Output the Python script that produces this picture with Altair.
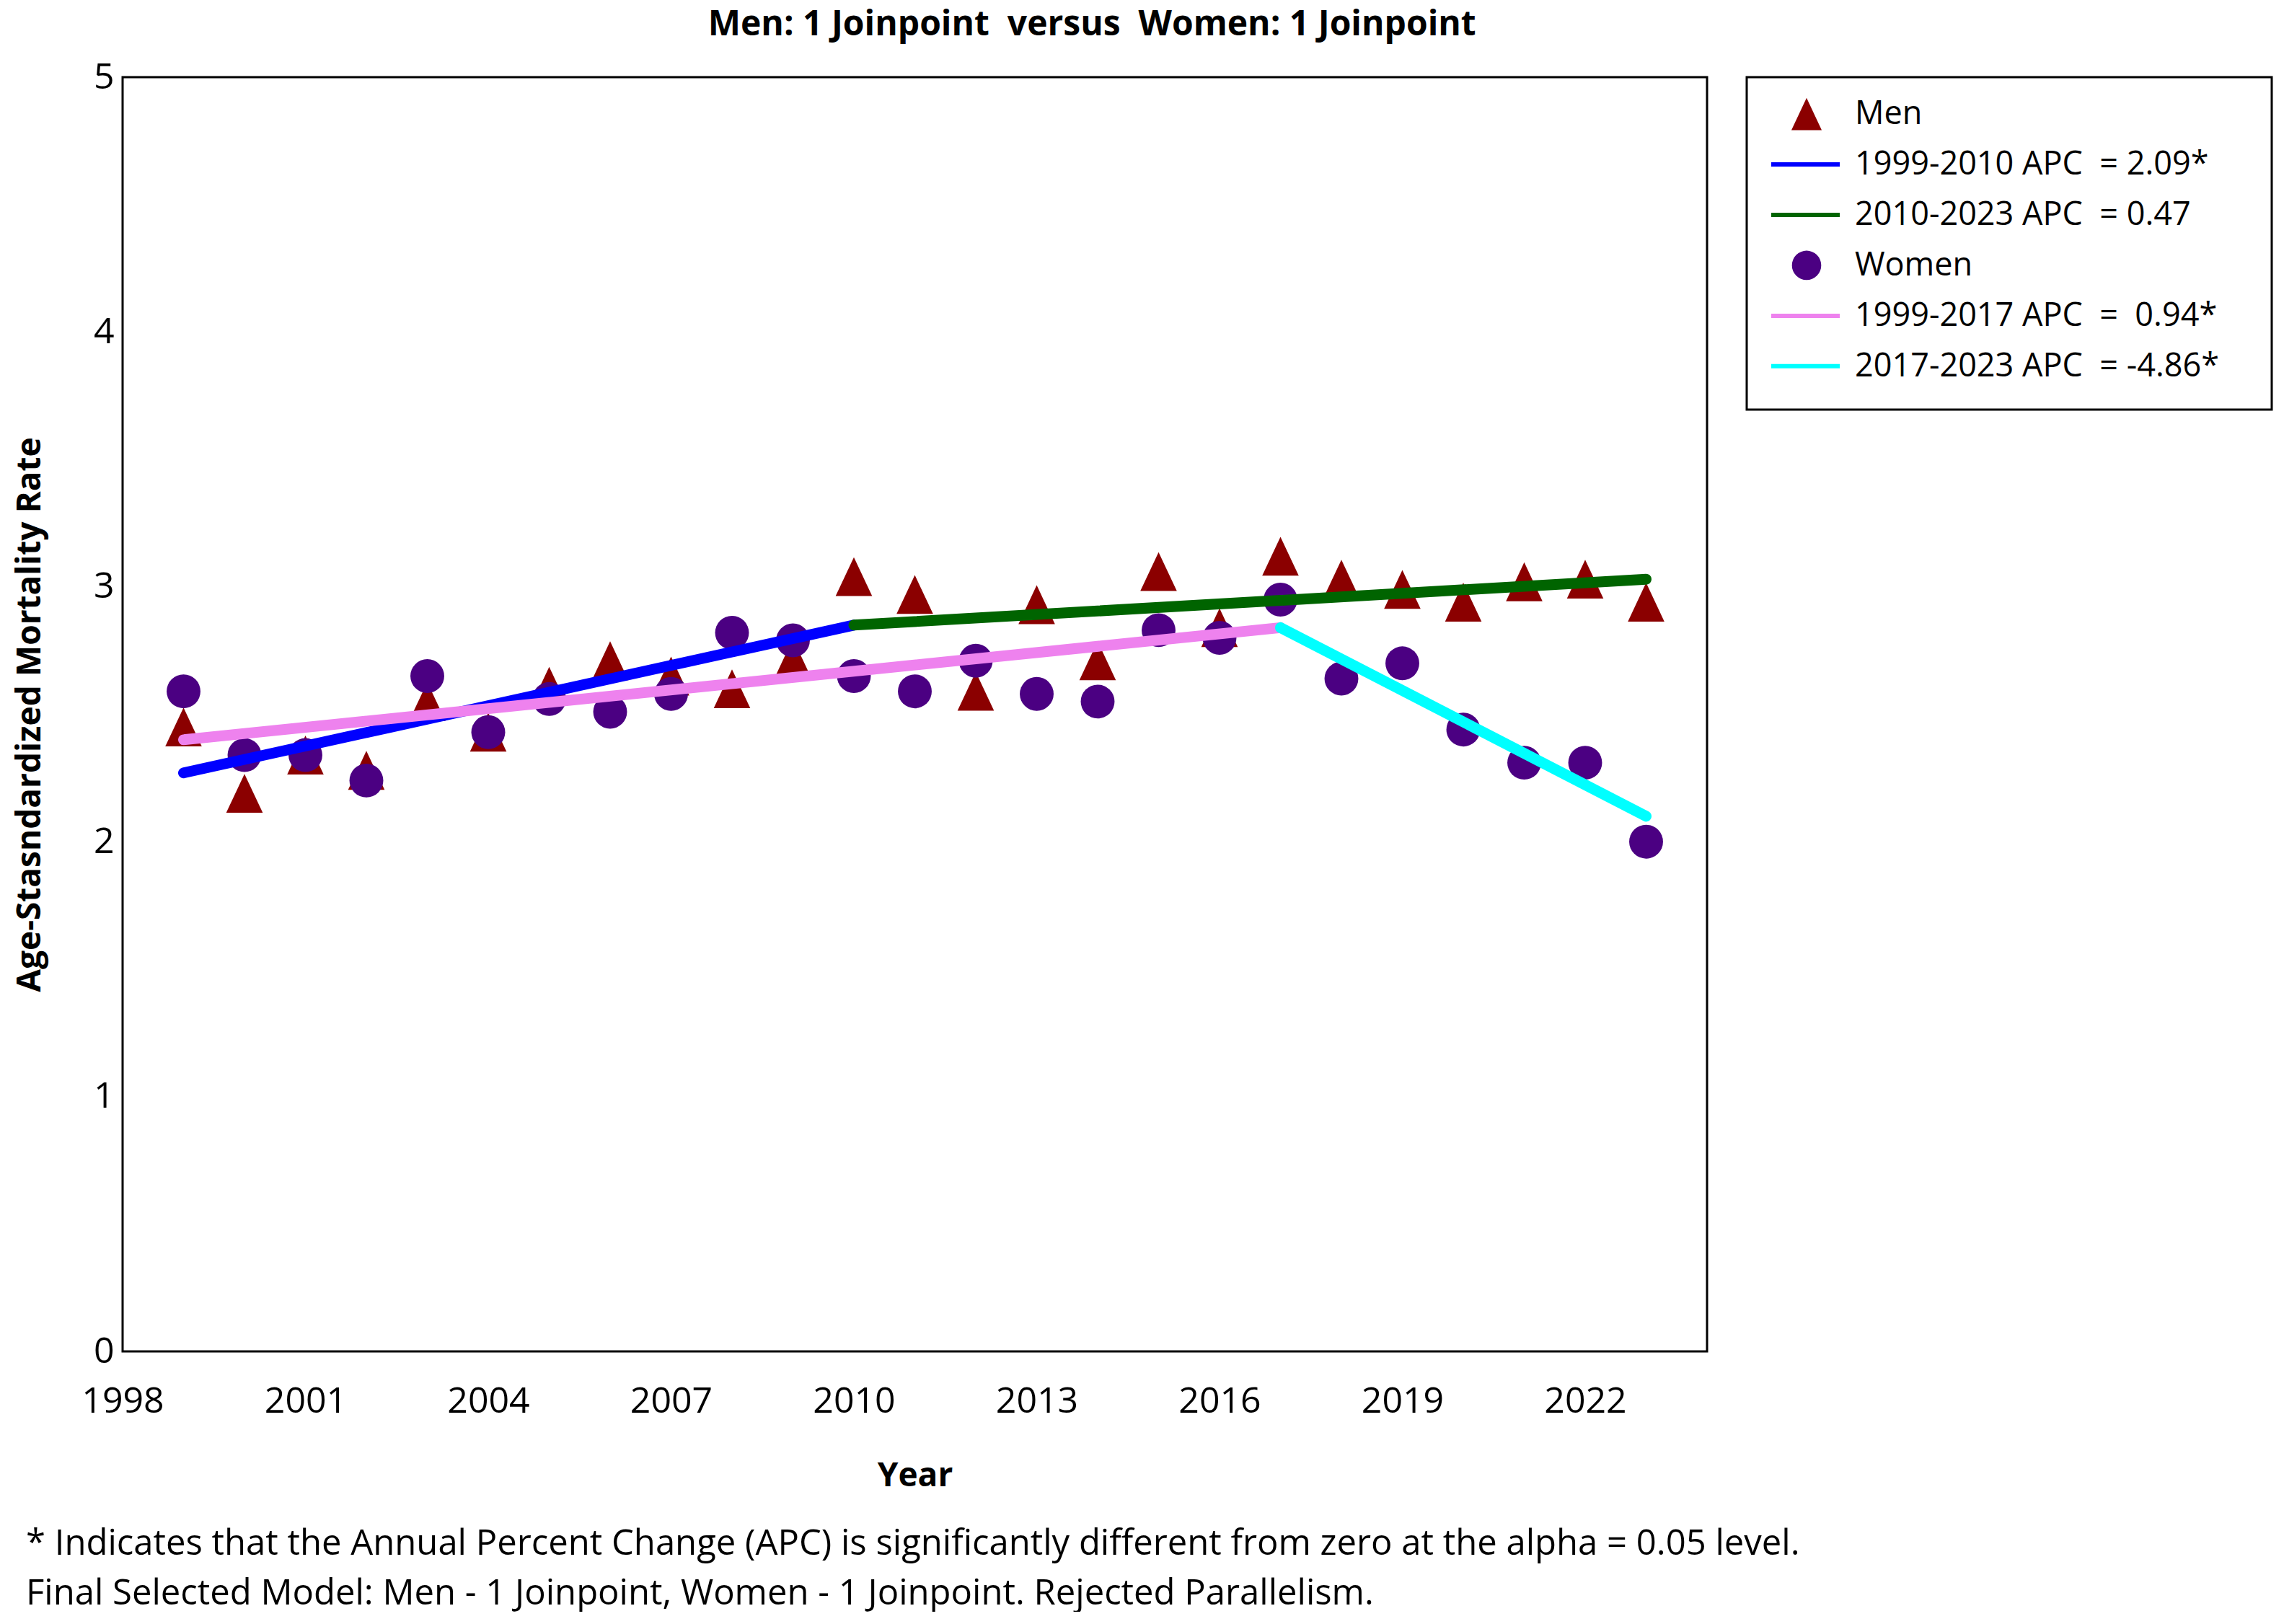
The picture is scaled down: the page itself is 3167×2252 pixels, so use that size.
import altair as alt
import pandas as pd

# ---------------- data ----------------
years = list(range(1999, 2024))
men_rate = [2.45, 2.19, 2.34, 2.28, 2.55, 2.43, 2.61, 2.71, 2.65, 2.60, 2.72, 3.04, 2.97,
            2.59, 2.93, 2.71, 3.06, 2.84, 3.12, 3.03, 2.99, 2.94, 3.02, 3.03, 2.94]
women_rate = [2.59, 2.34, 2.34, 2.24, 2.65, 2.43, 2.56, 2.51, 2.58, 2.82, 2.79, 2.65, 2.59,
              2.71, 2.58, 2.55, 2.83, 2.80, 2.95, 2.64, 2.70, 2.44, 2.31, 2.31, 2.00]

NB = "\u00a0"
seg_labels = ["1999-2010 APC" + NB + " = 2.09*",
              "2010-2023 APC" + NB + " = 0.47",
              "1999-2017 APC" + NB + " = " + NB + "0.94*",
              "2017-2023 APC" + NB + " = -4.86*"]
seg_start_year = [1999, 2010, 1999, 2017]
seg_end_year = [2010, 2023, 2017, 2023]
seg_start_val = [2.27, 2.85, 2.40, 2.84]
seg_end_val = [2.85, 3.03, 2.84, 2.10]
seg_colors = ["#0000FF", "#006400", "#EE82EE", "#00FFFF"]

x_ticks = [1998, 2001, 2004, 2007, 2010, 2013, 2016, 2019, 2022]
y_ticks = [0, 1, 2, 3, 4, 5]

title_text = "Men: 1 Joinpoint" + NB + " versus" + NB + " Women: 1 Joinpoint"
foot1 = "* Indicates that the Annual Percent Change (APC) is significantly different from zero at the alpha = 0.05 level."
foot2 = "Final Selected Model: Men - 1 Joinpoint, Women - 1 Joinpoint. Rejected Parallelism."

legend_labels = ["Men", seg_labels[0], seg_labels[1], "Women", seg_labels[2], seg_labels[3]]

# ---------------- tables ----------------
men_df = pd.DataFrame({"year": years, "rate": men_rate})
women_df = pd.DataFrame({"year": years, "rate": women_rate})
seg_rows = []
for i, lab in enumerate(seg_labels):
    seg_rows.append({"seg": lab, "year": seg_start_year[i], "rate": seg_start_val[i]})
    seg_rows.append({"seg": lab, "year": seg_end_year[i], "rate": seg_end_val[i]})
seg_df = pd.DataFrame(seg_rows)

FONT = "Open Sans"
TRI = "M0,-1L-0.94,1L0.94,1Z"
MEN_C = "#8B0000"
WOMEN_C = "#4B0082"

W, H = 2197, 1767

x_enc = alt.X("year:Q", scale=alt.Scale(domain=[1998, 2024], nice=False),
              axis=alt.Axis(values=x_ticks, format="d", title="Year", labelFlush=False,
                            labelPadding=44, titlePadding=56))
y_enc = alt.Y("rate:Q", scale=alt.Scale(domain=[0, 5], nice=False),
              axis=alt.Axis(values=y_ticks, format="d", labelFlush=False,
                            title="Age-Stasndardized Mortality Rate",
                            labelPadding=12, titlePadding=64))

men_pts = alt.Chart(men_df).mark_point(filled=True, shape=TRI, size=2900, opacity=1,
                                       color=MEN_C).encode(x=x_enc, y=y_enc)
women_pts = alt.Chart(women_df).mark_point(filled=True, shape="circle", size=2200, opacity=1,
                                           color=WOMEN_C).encode(x=x_enc, y=y_enc)
seg_lines = alt.Chart(seg_df).mark_line(strokeWidth=15, strokeCap="round").encode(
    x=x_enc, y=y_enc,
    color=alt.Color("seg:N", scale=alt.Scale(domain=seg_labels, range=seg_colors), legend=None),
    detail="seg:N",
)

main = alt.layer(men_pts, women_pts, seg_lines).properties(width=W, height=H)

# ---------------- legend panel ----------------
leg_df = pd.DataFrame({"row": list(range(len(legend_labels))), "label": legend_labels})
leg_kind_line = pd.DataFrame({"row": [1, 2, 4, 5], "seg": seg_labels})
ly = alt.Y("row:Q", scale=alt.Scale(domain=[-0.73, 5.86], reverse=True, nice=False), axis=None)

leg_text = alt.Chart(leg_df).mark_text(align="left", baseline="middle", font=FONT,
                                       fontSize=45, color="black").encode(
    x=alt.value(150), y=ly, text="label:N")
leg_tri = alt.Chart(leg_df[leg_df.row == 0]).mark_point(
    filled=True, shape=TRI, size=2000, opacity=1, color=MEN_C).encode(x=alt.value(83), y=ly)
leg_cir = alt.Chart(leg_df[leg_df.row == 3]).mark_point(
    filled=True, shape="circle", size=1650, opacity=1, color=WOMEN_C).encode(x=alt.value(83), y=ly)
leg_rules = alt.Chart(leg_kind_line).mark_rule(strokeWidth=6).encode(
    x=alt.value(34), x2=alt.value(129), y=ly,
    color=alt.Color("seg:N", scale=alt.Scale(domain=seg_labels, range=seg_colors), legend=None))

legend_panel = alt.layer(leg_tri, leg_cir, leg_rules, leg_text).properties(width=728, height=461)

# ---------------- footnotes ----------------
f1 = alt.Chart(pd.DataFrame({"t": [foot1]})).mark_text(
    align="left", baseline="middle", font=FONT, fontSize=49, color="black"
).encode(text="t:N", x=alt.value(-134), y=alt.value(70))
f2 = alt.Chart(pd.DataFrame({"t": [foot2]})).mark_text(
    align="left", baseline="middle", font=FONT, fontSize=49, color="black"
).encode(text="t:N", x=alt.value(-134), y=alt.value(139))
footer = alt.layer(f1, f2).properties(width=2300, height=140,
                                      view=alt.ViewBackground(strokeOpacity=0))

top = alt.hconcat(main, legend_panel, spacing=51)

chart = alt.vconcat(top, footer, spacing=0).properties(
    title=alt.TitleParams(title_text, font=FONT, fontSize=48, fontWeight="bold",
                          anchor="middle", dx=-70, offset=22, color="black"),
    padding={"left": 8, "top": 2, "right": 2, "bottom": 0},
).configure_view(stroke="black", strokeWidth=3).configure_axis(
    domain=False, ticks=False, grid=False,
    labelFont=FONT, labelFontSize=50, labelColor="black",
    titleFont=FONT, titleFontSize=46, titleFontWeight="bold", titleColor="black",
)

chart.save("out.html", embed_options={"renderer": "svg", "actions": False})
